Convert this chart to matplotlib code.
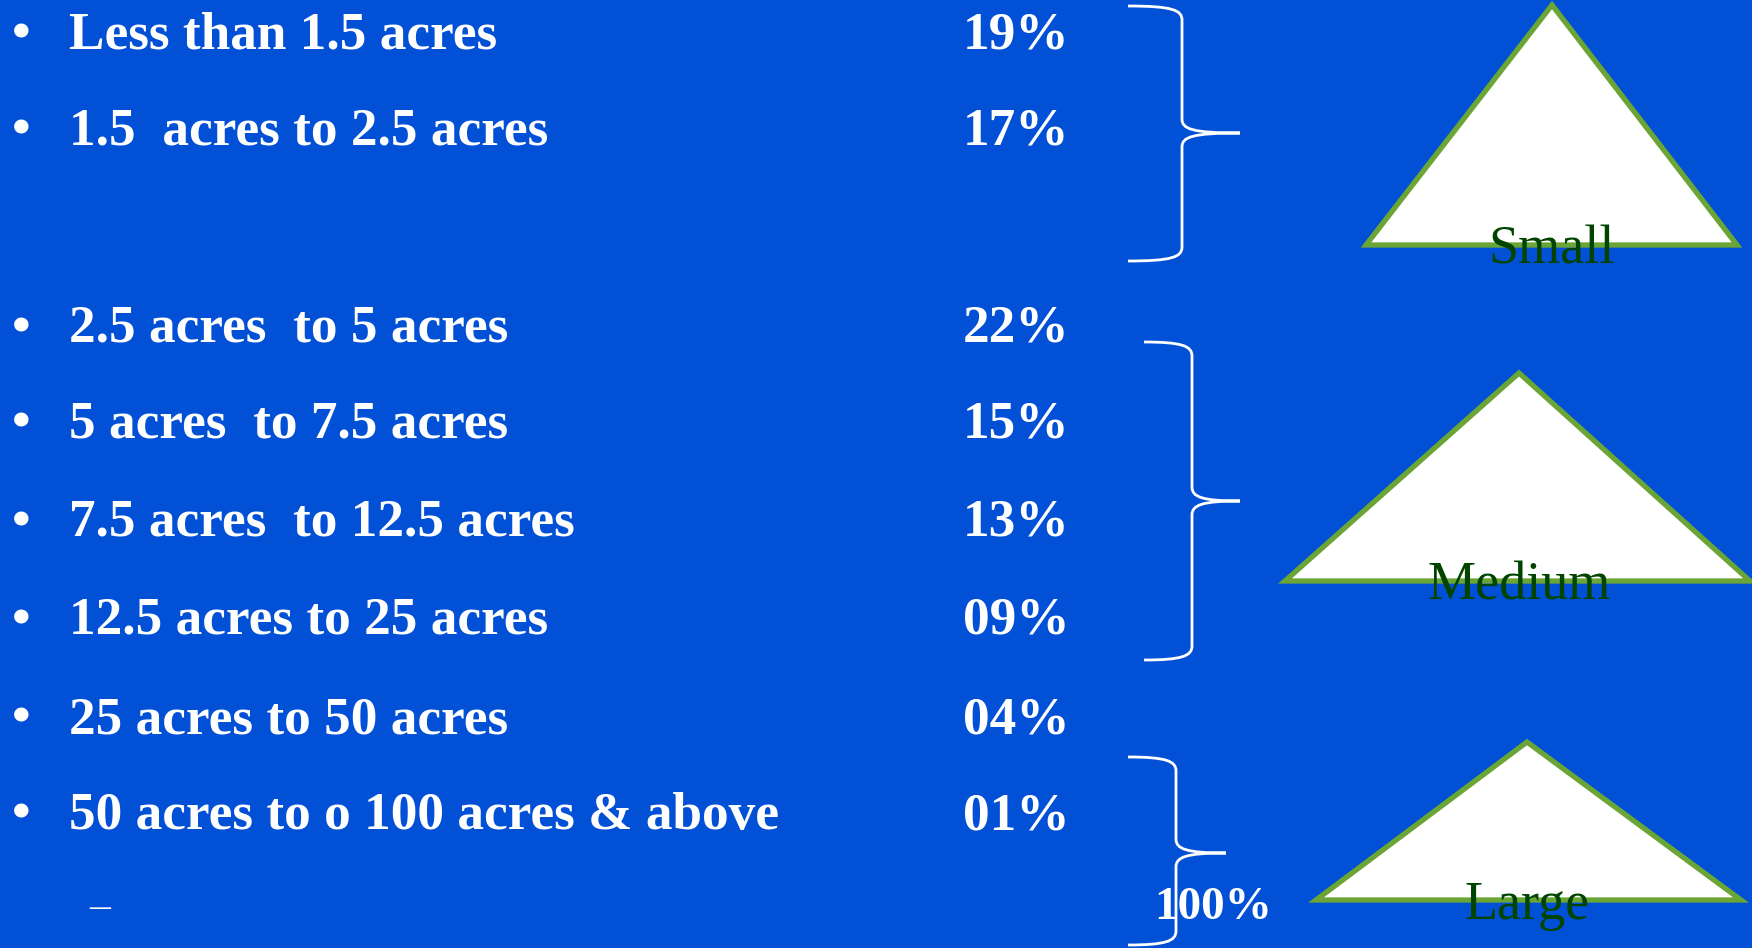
import matplotlib
matplotlib.use("Agg")
import matplotlib.pyplot as plt
from matplotlib.path import Path
from matplotlib.patches import PathPatch, Polygon

# farm size classes and share of holdings
categories = [
    "Less than 1.5 acres",
    "1.5  acres to 2.5 acres",
    "2.5 acres  to 5 acres",
    "5 acres  to 7.5 acres",
    "7.5 acres  to 12.5 acres",
    "12.5 acres to 25 acres",
    "25 acres to 50 acres",
    "50 acres to o 100 acres & above",
]
shares = [19, 17, 22, 15, 13, 9, 4, 1]
groups = ["Small", "Medium", "Large"]
total_label = "100%"

BG = "#0150d6"
EDGE = "#6aa535"
LABEL = "#004400"
SERIF = ["Liberation Serif", "DejaVu Serif"]

# layout (pixels, y down)
row_y = [48, 144, 342, 437, 536, 634, 733, 829]
braces = [  # x_left, x_vert, x_tip, y_top, y_mid, y_bot
    (1128, 1182, 1240, 6, 133, 261),
    (1144, 1192, 1240, 342, 501, 660),
    (1128, 1176, 1226, 757, 853, 945),
]
triangles = [  # apex, left, right
    ((1552, 5), (1366, 245), (1737, 245)),
    ((1519, 373), (1285, 581), (1750, 581)),
    ((1527, 742), (1316, 900), (1741, 900)),
]
label_y = [263, 600, 919]

fig = plt.figure(figsize=(17.52, 9.48), dpi=100, facecolor=BG)
ax = fig.add_axes([0, 0, 1, 1])
ax.set_facecolor(BG)
ax.set_xlim(0, 1752)
ax.set_ylim(948, 0)
ax.axis("off")

for y, cat, v in zip(row_y, categories, shares):
    ax.text(21, y, "\u2022", color="white", fontsize=38.3, fontweight="bold",
            family=SERIF, ha="center", va="baseline")
    ax.text(69, y, cat, color="white", fontsize=38.3, fontweight="bold",
            family=SERIF, ha="left", va="baseline")
    ax.text(963, y, f"{v:02d}%", color="white", fontsize=38.3, fontweight="bold",
            family=SERIF, ha="left", va="baseline")

# trailing sub-bullet dash
ax.text(100, 918, "\u2013", color="white", fontsize=30, family=SERIF,
        ha="center", va="baseline")


def brace(x0, xv, xt, yt, ym, yb, r=14):
    verts = [
        (x0, yt), (xv - 10, yt), (xv, yt + 4), (xv, yt + r),
        (xv, ym - r),
        (xv, ym - 4), (xv + 10, ym), (xt, ym),
        (xv + 10, ym), (xv, ym + 4), (xv, ym + r),
        (xv, yb - r),
        (xv, yb - 4), (xv - 10, yb), (x0, yb),
    ]
    codes = [Path.MOVETO, Path.CURVE4, Path.CURVE4, Path.CURVE4,
             Path.LINETO,
             Path.CURVE4, Path.CURVE4, Path.CURVE4,
             Path.CURVE4, Path.CURVE4, Path.CURVE4,
             Path.LINETO,
             Path.CURVE4, Path.CURVE4, Path.CURVE4]
    return PathPatch(Path(verts, codes), fill=False, edgecolor="white", lw=2.0)


for b in braces:
    ax.add_patch(brace(*b))

for tri, name, ly in zip(triangles, groups, label_y):
    ax.add_patch(Polygon(tri, closed=True, facecolor="white", edgecolor=EDGE,
                         lw=3.8, joinstyle="miter"))
    cx = tri[0][0]
    ax.text(cx, ly, name, color=LABEL, fontsize=39, family=SERIF,
            ha="center", va="baseline")

ax.text(1213, 919, total_label, color="white", fontsize=34, fontweight="bold",
        family=SERIF, ha="center", va="baseline")

fig.savefig("out.png", dpi=100, facecolor=BG)
